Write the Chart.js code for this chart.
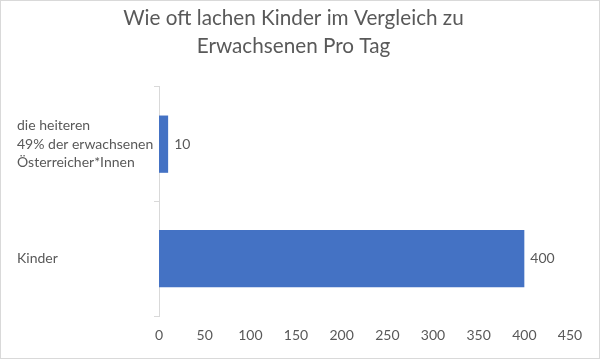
<!DOCTYPE html>
<html>
<head>
<meta charset="utf-8">
<script src="https://cdn.jsdelivr.net/npm/chart.js@4"></script>
<style>
  html, body { margin: 0; padding: 0; background: #fff; }
  #box { width: 600px; height: 359px; position: relative; }
</style>
</head>
<body>
<div id="box"><canvas id="laughChart"></canvas></div>
<script>
// Daten
const categories = [
  ['die heiteren', '49% der erwachsenen', 'Österreicher*Innen'],
  ['Kinder']
];
const laughsPerDay = [10, 400];
const xTicks = [0, 50, 100, 150, 200, 250, 300, 350, 400, 450];
const titleLines = ['Wie oft lachen Kinder im Vergleich zu', 'Erwachsenen Pro Tag'];

const FONT = 'Lato, "Open Sans", sans-serif';
const GREY = '#595959';

// Werte am Balkenende
const valueLabels = {
  id: 'valueLabels',
  afterDatasetsDraw(chart) {
    const c = chart.ctx;
    c.save();
    c.font = '14px ' + FONT;
    c.fillStyle = GREY;
    c.textAlign = 'left';
    c.textBaseline = 'middle';
    chart.getDatasetMeta(0).data.forEach((bar, i) => {
      c.fillText(String(laughsPerDay[i]), bar.x + 6, bar.y);
    });
    c.restore();
  }
};

// Rahmen um das Diagramm
const frame = {
  id: 'frame',
  afterDraw(chart) {
    const c = chart.ctx;
    c.save();
    c.strokeStyle = '#d9d9d9';
    c.lineWidth = 1;
    c.strokeRect(0.5, 0.5, chart.width - 1, chart.height - 1);
    c.restore();
  }
};

new Chart(document.getElementById('laughChart'), {
  type: 'bar',
  data: {
    labels: categories,
    datasets: [{
      data: laughsPerDay,
      backgroundColor: '#4472C4',
      borderWidth: 0,
      categoryPercentage: 1,
      barPercentage: 0.5
    }]
  },
  options: {
    indexAxis: 'y',
    responsive: true,
    maintainAspectRatio: false,
    animation: false,
    layout: { padding: { left: 17, right: 30, top: 0, bottom: 0 } },
    plugins: {
      legend: { display: false },
      tooltip: { enabled: false },
      title: {
        display: true,
        text: titleLines,
        color: GREY,
        font: { family: FONT, size: 20.7, weight: 'normal', lineHeight: 1.35 },
        padding: { top: 4, bottom: 27 }
      }
    },
    scales: {
      x: {
        min: 0,
        max: 450,
        afterFit(scale) { scale.height = 43; },
        afterBuildTicks(scale) { scale.ticks = xTicks.map(v => ({ value: v })); },
        grid: { display: false, drawTicks: false },
        border: { display: false },
        ticks: { color: GREY, padding: 11, font: { family: FONT, size: 14 } }
      },
      y: {
        afterFit(scale) { scale.width = 142; },
        grid: {
          offset: true,
          drawOnChartArea: false,
          tickLength: 5,
          color: '#d9d9d9'
        },
        border: { display: true, color: '#d9d9d9' },
        ticks: {
          crossAlign: 'far',
          color: GREY,
          font: { family: FONT, size: 14, lineHeight: 1.3 }
        }
      }
    }
  },
  plugins: [valueLabels, frame]
});
</script>
</body>
</html>
